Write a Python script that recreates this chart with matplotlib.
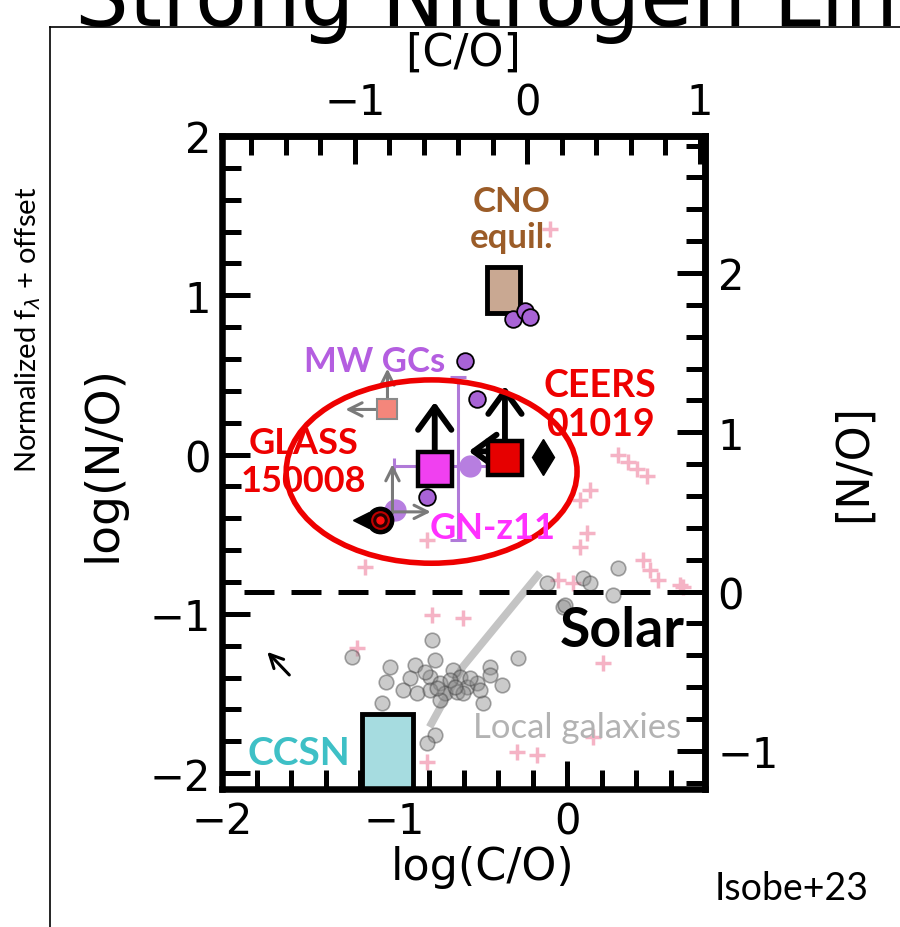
"""
N/O versus C/O abundance diagram (Isobe+23 style), as shown on a slide.
"""
import matplotlib
matplotlib.use("Agg")
import matplotlib.pyplot as plt
from matplotlib.patches import Rectangle, Ellipse
from matplotlib.ticker import MultipleLocator

# solar reference values used for the bracket axes
co_sun = 0.23
no_sun = 0.86

# local galaxies (log C/O, log N/O)
local_co = [-0.785, -1.244, -0.285, -1.029, -0.884, -0.767, -0.663, -0.448, -1.047, -0.913,
            -0.797, -0.738, -0.622, -0.581, -0.523, -0.448, -0.378, -0.953, -0.872, -0.797,
            -0.709, -0.640, -0.605, -0.738, -1.070, -0.488, -0.767, -0.814, -0.023, -0.116,
            0.297, 0.093, 0.134, 0.267, -0.012, -0.826, -0.680, -0.564, -0.651, -0.756, -0.506]
local_no = [-1.164, -1.270, -1.277, -1.333, -1.321, -1.289, -1.352, -1.333, -1.428, -1.403,
            -1.396, -1.434, -1.396, -1.459, -1.434, -1.384, -1.447, -1.478, -1.497, -1.478,
            -1.497, -1.491, -1.497, -1.541, -1.560, -1.560, -1.761, -1.811, -0.956, -0.805,
            -0.711, -0.774, -0.805, -0.881, -0.943, -1.365, -1.415, -1.403, -1.459, -1.465, -1.478]

# local galaxy trend
trend_co = [-0.797, -0.605, -0.157]
trend_no = [-1.711, -1.333, -0.742]

# stars / other pink crosses
cross_co = [-0.099, 0.297, 0.355, 0.407, 0.465, 0.134, 0.076, 0.116, 0.076, 0.442, 0.483,
            0.529, -0.052, 0.035, 0.674, -0.785, -0.605, -1.215, -1.174, -0.814, -0.814,
            -0.291, -0.174, 0.151, 0.209, 0.657]
cross_no = [1.415, 0.000, -0.050, -0.094, -0.132, -0.220, -0.283, -0.491, -0.579, -0.660,
            -0.723, -0.786, -0.786, -0.805, -0.830, -1.006, -1.025, -1.214, -0.704, -0.535,
            -1.931, -1.868, -1.887, -1.774, -1.308, -0.818]

# Milky Way globular clusters
gc_co = [-0.314, -0.244, -0.215, -0.593, -0.523, -0.814]
gc_no = [0.849, 0.899, 0.862, 0.585, 0.346, -0.264]

# model regions: (log C/O min, max), (log N/O min, max)
cno_co = (-0.465, -0.27)
cno_no = (0.89, 1.18)
ccsn_co = (-1.19, -0.895)
ccsn_no = (-2.1, -1.63)

# high-z galaxies
gnz11 = (-0.767, -0.094)
ceers = (-0.360, -0.019)
glass = (-1.087, -0.409)
salmon = (-1.041, 0.283)
diamond = (-0.140, -0.013)
purple_bar = (-0.634, -0.075)
purple_bar_xerr = ([0.37], [0.20])
purple_bar_yerr = ([0.46], [0.56])
purple_extra_co = [-0.564, -1.000]
purple_extra_no = [-0.075, -0.346]

# limit arrows: (start, end)
black_arrows = [((-0.767, -0.094), (-0.767, 0.33)),
                ((-0.360, -0.019), (-0.360, 0.43)),
                ((-0.360, 0.020), (-0.570, 0.020))]
gray_arrows = [((-1.041, 0.283), (-1.285, 0.283)),
               ((-1.041, 0.283), (-1.041, 0.540)),
               ((-1.012, -0.370), (-1.012, -0.060)),
               ((-1.000, -0.360), (-0.790, -0.360))]
corner_arrow = ((-1.61, -1.384), (-1.738, -1.239))

fig = plt.figure(figsize=(9.0, 9.28), dpi=100)
ax = fig.add_axes([0.2467, 0.1487, 0.5367, 0.7037])
ax.set_xlim(-2.0, 0.8)
ax.set_ylim(-2.1, 2.0)

# slide decorations
fig.text(0.083, 0.972, "Strong Nitrogen Line", fontsize=61, va="baseline", ha="left",
         family="DejaVu Sans")
fig.add_artist(plt.Line2D([0.0556, 0.0556], [0.0, 0.97], color="black", lw=1.2))
fig.add_artist(plt.Line2D([0.0556, 1.0], [0.97, 0.97], color="black", lw=1.2))
fig.text(0.031, 0.644, r"Normalized f$_\lambda$ + offset", rotation=90, fontsize=21,
         ha="center", va="center", family="Lato")
fig.text(0.794, 0.03, "Isobe+23", fontsize=27, family="Lato", ha="left", va="baseline")

# background samples
ax.plot(cross_co, cross_no, "+", color="#f5b3c5", ms=12, mew=2.5, zorder=1)
ax.plot(trend_co, trend_no, color="#c4c4c4", lw=5.5, solid_capstyle="butt", zorder=1.5)
ax.scatter(local_co, local_no, s=110, facecolor="#8c8c8c", edgecolor="#404040",
           alpha=0.45, lw=1.2, zorder=2)

# solar line
ax.plot([-1.87, 0.8], [-no_sun, -no_sun], color="black", lw=3.6, dashes=(6, 3.4), zorder=3)

# model boxes
ax.add_patch(Rectangle((cno_co[0], cno_no[0]), cno_co[1] - cno_co[0], cno_no[1] - cno_no[0],
                       facecolor="#c9a892", edgecolor="black", lw=3.5, zorder=4))
ax.add_patch(Rectangle((ccsn_co[0], ccsn_no[0]), ccsn_co[1] - ccsn_co[0],
                       ccsn_no[1] - ccsn_no[0], facecolor="#a6dce0", edgecolor="black",
                       lw=3.5, zorder=2))

# globular clusters and purple literature points
ax.errorbar(purple_bar[0], purple_bar[1], xerr=purple_bar_xerr, yerr=purple_bar_yerr,
            fmt="none", ecolor="#b07ad8", elinewidth=2.2, capsize=6, capthick=2.2, zorder=4)
ax.plot(gc_co, gc_no, "o", color="#a863d6", mec="black", mew=1.3, ms=12, zorder=5)
ax.plot(purple_extra_co, purple_extra_no, "o", color="#b77ee0", mec="#b77ee0", ms=15, zorder=5)

# limit arrows
for (x0, y0), (x1, y1) in gray_arrows:
    ax.annotate("", xy=(x1, y1), xytext=(x0, y0),
                arrowprops=dict(arrowstyle="->", color="#7a7a7a", lw=2.2, mutation_scale=24,
                                shrinkA=0, shrinkB=0), zorder=5)
for (x0, y0), (x1, y1) in black_arrows:
    ax.annotate("", xy=(x1, y1), xytext=(x0, y0),
                arrowprops=dict(arrowstyle="->, head_length=0.55, head_width=0.4",
                                color="black", lw=4.2, mutation_scale=30,
                                shrinkA=0, shrinkB=0), zorder=6)
ax.annotate("", xy=corner_arrow[1], xytext=corner_arrow[0],
            arrowprops=dict(arrowstyle="->", color="black", lw=2.2, mutation_scale=24,
                            shrinkA=0, shrinkB=0), zorder=5)

# high-z objects
ax.plot(*salmon, "s", color="#f4867b", mec="#8a8a8a", mew=1.5, ms=14, zorder=6)
ax.plot(glass[0] - 0.105, glass[1], "<", color="black", ms=12, zorder=6)
ax.plot(*glass, "o", color="black", ms=19, zorder=7)
ax.plot(*glass, "o", color="#2a0000", mec="#c00000", mew=1.5, ms=12, zorder=7)
ax.plot(*glass, "o", color="#ff1010", ms=5, zorder=7)
ax.plot(*gnz11, "s", color="#f040f0", mec="black", mew=3.2, ms=25, zorder=7)
ax.plot(*ceers, "s", color="#e60000", mec="black", mew=3.2, ms=25, zorder=7)
ax.plot(*diamond, "d", color="black", ms=18, zorder=7)

# slide annotation ellipse
ax.add_patch(Ellipse((-0.785, -0.107), 1.686, 1.151, fill=False, edgecolor="#ee0000",
                     lw=4, zorder=8))

# labels inside the plot
bold = dict(family="Lato", fontweight="bold", ha="center", va="center", zorder=9)
ax.text(-0.32, 1.478, "CNO\nequil.", color="#9b5c28", fontsize=25, linespacing=1.15, **bold)
ax.text(-1.116, 0.585, "MW GCs", color="#b45ee0", fontsize=25, **bold)
ax.text(-1.53, -0.044, "GLASS\n150008", color="#ee0000", fontsize=26, linespacing=1.2, **bold)
ax.text(0.192, 0.314, "CEERS\n01019", color="#ee0000", fontsize=27, linespacing=1.2, **bold)
ax.text(-0.43, -0.459, "GN-z11", color="#ff30ff", fontsize=26, **bold)
ax.text(0.32, -1.10, "Solar", color="black", fontsize=40, **bold)
ax.text(-1.552, -1.868, "CCSN", color="#3ec0c6", fontsize=28, **bold)
ax.text(0.06, -1.711, "Local galaxies", color="#b3b3b3", fontsize=25, family="Lato",
        ha="center", va="center", zorder=9)

# axes styling
for sp in ax.spines.values():
    sp.set_linewidth(4.7)
ax.xaxis.set_major_locator(MultipleLocator(1))
ax.xaxis.set_minor_locator(MultipleLocator(0.2))
ax.yaxis.set_major_locator(MultipleLocator(1))
ax.yaxis.set_minor_locator(MultipleLocator(0.2))
ax.tick_params(which="both", direction="in", width=3.6, labelsize=30, pad=8,
               top=False, right=False)
ax.tick_params(which="major", length=20)
ax.tick_params(which="minor", length=14)
ax.set_xlabel("log(C/O)", fontsize=32)
ax.set_ylabel("log(N/O)", fontsize=34)
ax.xaxis.set_label_coords(0.54, -0.085)
ax.yaxis.set_label_coords(-0.2, 0.5)

sec_x = ax.secondary_xaxis("top", functions=(lambda v: v + co_sun, lambda v: v - co_sun))
sec_y = ax.secondary_yaxis("right", functions=(lambda v: v + no_sun, lambda v: v - no_sun))
for sec, axis in ((sec_x, sec_x.xaxis), (sec_y, sec_y.yaxis)):
    axis.set_major_locator(MultipleLocator(1))
    axis.set_minor_locator(MultipleLocator(0.2))
    sec.tick_params(which="both", direction="in", width=3.6, labelsize=30, pad=9)
    sec.tick_params(which="major", length=20)
    sec.tick_params(which="minor", length=14)
    for sp in sec.spines.values():
        sp.set_linewidth(4.7)
sec_x.set_xlabel("[C/O]", fontsize=32, labelpad=12)
sec_y.set_ylabel("[N/O]", fontsize=32, labelpad=38)

fig.savefig("out.png", dpi=100)
